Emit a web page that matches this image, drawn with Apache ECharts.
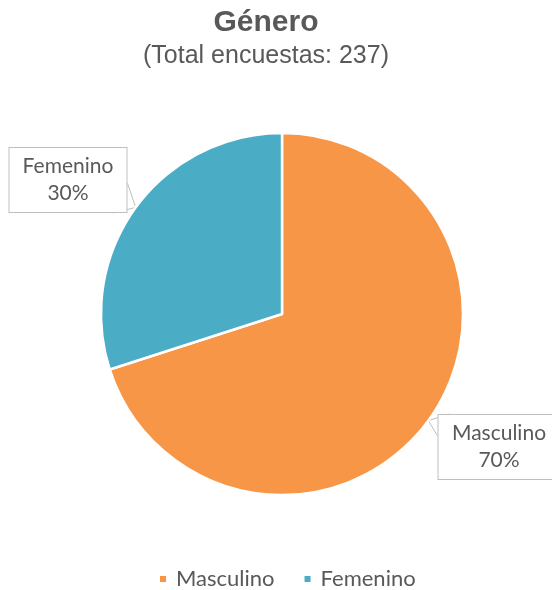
<!DOCTYPE html>
<html>
<head>
<meta charset="utf-8">
<script src="https://cdn.jsdelivr.net/npm/echarts@6/dist/echarts.min.js"></script>
<style>
  html, body { margin: 0; padding: 0; background: #fff; }
  #chart { width: 552px; height: 590px; }
</style>
</head>
<body>
<div id="chart"></div>
<script>
// datos
const categorias = ['Masculino', 'Femenino'];
const encuestas = [166, 71];
const colores = ['#F79646', '#4BACC6'];
const titulo = 'Género';
const subtitulo = '(Total encuestas: 237)';

// posición de las etiquetas tipo "bocadillo" (centro de la caja) y ancho del texto
const cajas = [
  { x: 499, y: 447, ancho: 101 },   // Masculino
  { x: 68, y: 180, ancho: 97 }      // Femenino
];

const chart = echarts.init(document.getElementById('chart'));

const datos = categorias.map((c, i) => ({
  name: c,
  value: encuestas[i],
  itemStyle: { color: colores[i] },
  label: { width: cajas[i].ancho }
}));

const option = {
  backgroundColor: '#fff',
  animation: false,
  title: {
    text: titulo,
    subtext: subtitulo,
    left: 261,
    top: 3,
    textAlign: 'center',
    itemGap: 6,
    textStyle: {
      fontFamily: 'Liberation Sans, Arial, sans-serif',
      fontSize: 30,
      fontWeight: 'bold',
      color: '#595959'
    },
    subtextStyle: {
      fontFamily: 'Liberation Sans, Arial, sans-serif',
      fontSize: 25,
      color: '#595959'
    }
  },
  legend: {
    data: categorias,
    left: 153,
    top: 563,
    icon: 'rect',
    itemWidth: 8,
    itemHeight: 8,
    itemGap: 28,
    textStyle: {
      fontFamily: 'Lato, sans-serif',
      fontSize: 22,
      color: '#595959',
      padding: [0, 0, 0, 4]
    }
  },
  series: [{
    type: 'pie',
    center: [282, 314],
    radius: 181,
    startAngle: 90,
    clockwise: true,
    data: datos,
    itemStyle: { borderColor: '#fff', borderWidth: 2.5 },
    label: {
      show: true,
      position: 'outside',
      overflow: 'none',
      formatter: p => p.name + '\n' + Math.round(p.percent) + '%',
      fontFamily: 'Lato, sans-serif',
      fontSize: 21,
      lineHeight: 27,
      color: '#595959',
      align: 'center',
      backgroundColor: '#fff',
      borderColor: '#bfbfbf',
      borderWidth: 1,
      padding: [5, 10, 5, 10]
    },
    labelLine: {
      show: true,
      length: 10,
      length2: 10,
      smooth: false,
      lineStyle: { color: '#bfbfbf', width: 1 }
    },
    labelLayout: function (params) {
      const c = cajas[params.dataIndex];
      const w = params.labelRect.width;
      const h = params.labelRect.height;
      const bx = c.x - w / 2;
      const by = c.y - h / 2;
      const tip = params.labelLinePoints ? params.labelLinePoints[0] : [c.x, c.y];
      let pts;
      if (params.dataIndex === 0) {
        pts = [[bx + 12, by], tip, [bx, by + h * 0.33]];
      } else {
        pts = [[bx + w, by + h * 0.55], tip, [bx + w - 14, by + h]];
      }
      return {
        x: c.x,
        y: c.y,
        align: 'center',
        verticalAlign: 'middle',
        labelLinePoints: pts
      };
    },
    emphasis: { disabled: true }
  }]
};

chart.setOption(option);
</script>
</body>
</html>
